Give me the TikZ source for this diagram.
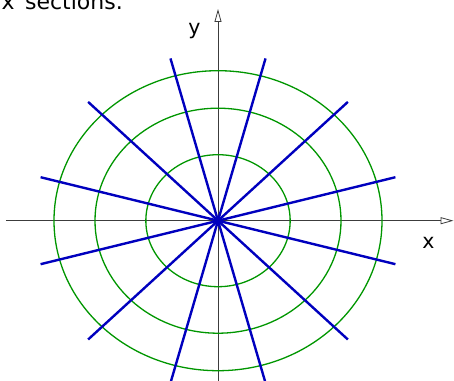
\documentclass[tikz,border=0pt]{standalone}
\usepackage{fontspec}
\setmainfont{DejaVu Sans}
\usetikzlibrary{arrows.meta}
\definecolor{ringgreen}{RGB}{0,150,0}
\definecolor{rayblue}{RGB}{0,0,190}
\definecolor{axisgray}{RGB}{60,60,60}
\begin{document}
\begin{tikzpicture}[x=164pt, y=150pt,
  axis/.style={draw=axisgray, line width=0.8pt, -{Triangle[open,length=13pt,width=7pt]}},
  ring/.style={draw=ringgreen, line width=1.3pt},
  ray/.style={draw=rayblue, line width=2.4pt},
  lab/.style={font=\fontsize{20.5}{24}\selectfont, inner sep=0pt}]
  \useasboundingbox (-218pt,-159.3pt) rectangle (236pt,220.7pt);
  \clip (-218pt,-159.3pt) rectangle (236pt,220.7pt);
  \coordinate (O) at (0,0);

  % Ejes
  \draw[axis] (-212pt,0) -- (235.5pt,0);
  \draw[axis] (0,-170pt) -- (0,211.7pt);

  % Elipses
  \foreach \r in {0.44,0.75,1}
    \draw[ring] (O) circle[radius=\r];

  % Rayos
  \foreach \a in {15,45,...,165}
    \draw[ray] (\a+180:1.12) -- (\a:1.12);

  % Etiquetas
  \node[lab, anchor=base] (xlab) at (210.5pt,-27.3pt) {x};
  \node[lab, anchor=base] (ylab) at (-23.5pt,186.2pt) {y};
  \node[font=\fontsize{22}{26}\selectfont, anchor=base east, inner sep=0pt] (title) at (-95pt,210.7pt) {x\hspace{3.5pt} sections.};
\end{tikzpicture}
\end{document}
